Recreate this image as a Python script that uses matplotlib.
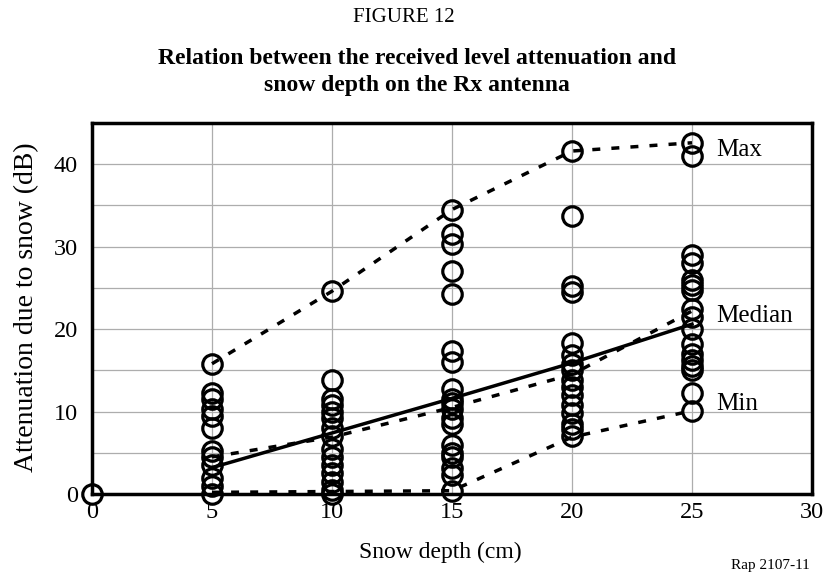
import matplotlib.pyplot as plt
from matplotlib.ticker import MultipleLocator

plt.rcParams["font.family"] = ["Liberation Serif", "DejaVu Serif"]

# Attenuation samples (dB) per snow depth (cm)
att_0cm = [0.0]
att_5cm = [15.8, 12.2, 11.5, 10.3, 9.5, 8.0, 5.2, 4.5, 3.5, 2.0, 1.0, 0.0]
att_10cm = [24.6, 13.8, 11.5, 10.8, 10.0, 9.2, 8.0, 7.0, 5.5, 4.5, 3.5, 2.5, 1.5, 0.5, 0.0]
att_15cm = [34.5, 31.5, 30.3, 27.1, 24.2, 17.4, 16.0, 12.7, 11.5, 11.0, 10.3, 9.2,
            8.5, 6.0, 5.0, 4.5, 3.2, 2.3, 0.4]
att_20cm = [41.6, 33.7, 25.2, 24.5, 18.3, 16.8, 15.8, 15.0, 13.8, 13.0, 12.0, 10.8,
            9.8, 8.5, 7.9, 7.0]
att_25cm = [42.6, 41.0, 29.0, 28.0, 26.0, 25.3, 24.8, 22.5, 21.5, 20.0, 18.2, 17.0,
            16.2, 15.5, 15.0, 12.2, 10.1]

samples = {0: att_0cm, 5: att_5cm, 10: att_10cm, 15: att_15cm, 20: att_20cm, 25: att_25cm}

# Envelope curves
curve_depths = [5, 10, 15, 20, 25]
max_curve = [15.8, 24.6, 34.5, 41.6, 42.6]
median_fit = [3.2, 7.4, 11.6, 15.9, 20.6]
median_dashed = [4.5, 6.9, 10.5, 14.5, 22.2]
min_curve = [0.2, 0.3, 0.4, 6.9, 10.1]

curve_labels = ["Max", "Median", "Min"]
label_y = [41.7, 21.6, 10.9]

fig = plt.figure(figsize=(8.24, 5.78), dpi=100)
ax = fig.add_axes([92 / 824, 1 - 494 / 578, 720 / 824, 371 / 578])

dash = (0, (2.3, 3.2))
ax.plot(curve_depths, max_curve, color="black", lw=2.5, ls=dash, zorder=2)
ax.plot(curve_depths, median_dashed, color="black", lw=2.5, ls=dash, zorder=2)
ax.plot(curve_depths, min_curve, color="black", lw=2.5, ls=dash, zorder=2)
ax.plot(curve_depths, median_fit, color="black", lw=2.5, ls="-", zorder=2)

for depth, vals in samples.items():
    ax.plot([depth] * len(vals), vals, "o", ms=14, mfc="none", mec="black",
            mew=2.3, zorder=3, clip_on=False)

for text, y in zip(curve_labels, label_y):
    ax.text(26.0, y, text, fontsize=18, va="center", ha="left")

ax.set_xlim(0, 30)
ax.set_ylim(0, 45)
ax.xaxis.set_major_locator(MultipleLocator(5))
ax.yaxis.set_major_locator(MultipleLocator(10))
ax.yaxis.set_minor_locator(MultipleLocator(5))
ax.grid(which="both", color="#adadad", lw=0.9)
ax.set_axisbelow(True)
ax.tick_params(which="both", length=0, labelsize=17.5)
ax.tick_params(axis="x", pad=6)
ax.tick_params(axis="y", pad=10)
for sp in ax.spines.values():
    sp.set_linewidth(2.5)

ax.set_xlabel("Snow depth (cm)", fontsize=17)
ax.xaxis.label.set_va("center")
ax.xaxis.set_label_coords((440 - 92) / 720, (494 - 552) / 371)
ax.set_ylabel("Attenuation due to snow (dB)", fontsize=20)
ax.yaxis.label.set_va("center")
ax.yaxis.set_label_coords((27 - 92) / 720, 0.5 + (494 - 307 - 185.5) / 371)

fig.text(0.49, 1 - 18 / 578, "FIGURE 12", ha="center", va="center", fontsize=15)
fig.text(0.506, 1 - 72 / 578,
         "Relation between the received level attenuation and\nsnow depth on the Rx antenna",
         ha="center", va="center", fontsize=17, fontweight="bold", linespacing=1.4)
fig.text(810 / 824, 1 - 566 / 578, "Rap 2107-11", ha="right", va="center", fontsize=11)

fig.savefig("out.png", dpi=100)
